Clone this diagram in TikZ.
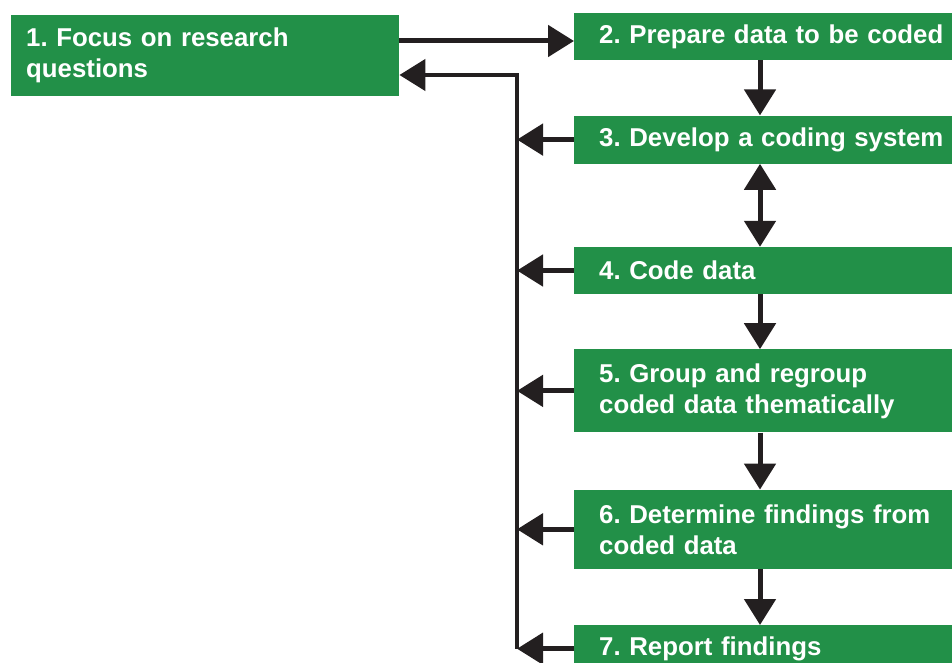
\documentclass[tikz,border=0pt]{standalone}
\usepackage{fontspec}
\setmainfont{Liberation Sans}
\usetikzlibrary{arrows.meta,positioning}
\definecolor{StepGreen}{RGB}{34,144,72}
\definecolor{InkBlack}{RGB}{35,31,32}
\frenchspacing

\begin{document}
\begin{tikzpicture}[x=1pt, y=-1pt, >={Triangle[length=26pt,width=31pt]},
    stepbox/.style={fill=StepGreen, text=white, font=\fontsize{25.8}{31}\selectfont\bfseries,
      align=left, anchor=north west, inner xsep=25pt, inner ysep=0pt, text width=400pt, minimum height=47pt},
    flow/.style={->, line width=5pt, InkBlack}]
    \path[use as bounding box, clip] (0,0) rectangle (952,663);

    % the steps
    \node [stepbox, inner xsep=15pt, text width=358pt, minimum height=81pt] (focus) at (11,15) {1. Focus on research\\questions};
    \node [stepbox] (prepare) at (574,13) {2. Prepare data to be coded};
    \node [stepbox, minimum height=48pt, below=55pt of prepare.south west, anchor=north west] (develop) {3. Develop a coding system};
    \node [stepbox, below=83pt of develop.south west, anchor=north west] (code) {4. Code data};
    \node [stepbox, minimum height=83pt, below=55pt of code.south west, anchor=north west] (group) {5. Group and regroup\\coded data thematically};
    \node [stepbox, minimum height=79pt, below=57pt of group.south west, anchor=north west] (findings) {6. Determine findings from\\coded data};
    \node [stepbox, below=56pt of findings.south west, anchor=north west] (report) {7. Report findings};

    \coordinate (col) at (760,0);
    \coordinate (spine) at (517,0);
    \coordinate (fwd) at (0,41);
    \coordinate (back) at (0,75);

    % main column
    \draw [flow] (focus.east |- fwd) -- (prepare.west |- fwd);
    \draw [flow] (prepare.south -| col) -- (develop.north -| col);
    \draw [flow, <->] (develop.south -| col) -- (code.north -| col);
    \draw [flow] (code.south -| col) -- (group.north -| col);
    \draw [flow] (group.south -| col) -- (findings.north -| col);
    \draw [flow] (findings.south -| col) -- (report.north -| col);

    % feedback to step 1
    \foreach \s in {develop, code, group, findings, report}
        \draw [flow] (\s.west) -- (\s.west -| spine);
    \draw [flow, line width=4.5pt, miter limit=4] (report.west -| spine) -- (spine |- back) -- (focus.east |- back);
\end{tikzpicture}
\end{document}
